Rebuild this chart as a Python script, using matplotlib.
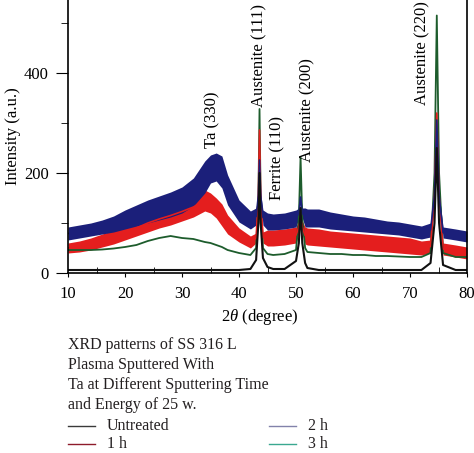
import numpy as np
import matplotlib
matplotlib.use("Agg")
import matplotlib.pyplot as plt
from matplotlib.lines import Line2D
from matplotlib.ticker import MultipleLocator

plt.rcParams['font.family'] = ['Liberation Serif', 'DejaVu Serif']
plt.rcParams['mathtext.fontset'] = 'custom'
plt.rcParams['mathtext.rm'] = 'Liberation Serif'
plt.rcParams['mathtext.it'] = 'Liberation Serif:italic'

# 2theta grid (degree), denser around the peaks
two_theta = [10, 12, 14, 16, 18, 20, 22, 24, 26, 28, 30, 32, 34, 35, 36, 37, 38, 40, 42,
             43.0, 43.4, 43.6, 43.8, 44.2, 45, 46, 48,
             50.0, 50.5, 50.8, 51.1, 51.6, 52, 54, 56, 58, 60, 62, 64, 66, 68, 70, 72,
             73.6, 74.3, 74.7, 75.1, 75.8, 78, 80]

# 2 h (noisy band: lower / upper edge)
h2_lo = [66, 70, 74, 78, 82, 88, 94, 100, 106, 112, 120, 134, 160, 180, 184, 170, 136, 102, 88,
         96, 150, 224, 150, 96, 86, 86, 88,
         92, 110, 150, 110, 92, 92, 92, 88, 86, 84, 82, 80, 78, 76, 72, 68,
         72, 150, 304, 150, 70, 66, 62]
h2_hi = [92, 96, 100, 106, 114, 126, 136, 146, 154, 162, 172, 190, 224, 236, 240, 234, 196, 146, 124,
         130, 160, 228, 160, 126, 120, 118, 120,
         126, 130, 154, 130, 130, 128, 128, 122, 118, 114, 112, 108, 104, 102, 98, 94,
         100, 160, 308, 160, 92, 88, 84]

# 1 h
h1_lo = [40, 42, 46, 52, 58, 66, 74, 82, 90, 96, 104, 112, 124, 120, 110, 94, 78, 62, 50,
         60, 150, 284, 150, 60, 54, 54, 56,
         60, 80, 108, 80, 58, 56, 54, 52, 50, 48, 46, 44, 42, 40, 38, 36,
         40, 150, 318, 150, 36, 32, 28]
h1_hi = [60, 64, 70, 78, 86, 94, 106, 118, 126, 134, 142, 152, 166, 160, 150, 138, 116, 90, 74,
         80, 160, 288, 160, 82, 86, 86, 88,
         92, 104, 112, 104, 92, 90, 88, 84, 82, 80, 78, 76, 74, 72, 70, 64,
         66, 160, 322, 160, 60, 56, 52]

# 3 h
h3 = [46, 46, 46, 47, 49, 52, 56, 64, 70, 74, 70, 68, 62, 60, 56, 52, 46, 40, 36,
      50, 150, 328, 150, 50, 38, 36, 38,
      46, 110, 232, 110, 50, 42, 40, 38, 38, 36, 36, 34, 34, 33, 32, 32,
      40, 200, 515, 200, 40, 32, 32]

# untreated
untreated = [6, 6, 6, 6, 6, 6, 6, 6, 6, 6, 6, 6, 6, 6, 6, 6, 6, 6, 8,
             26, 100, 200, 100, 30, 12, 8, 8,
             24, 60, 130, 60, 20, 10, 6, 6, 6, 6, 6, 6, 6, 6, 6, 6,
             20, 100, 250, 100, 16, 6, 6]

peak_labels = ["Ta (330)", "Austenite (111)", "Ferrite (110)", "Austenite (200)", "Austenite (220)"]
label_x = [35.4, 43.5, 46.7, 52.0, 72.1]
label_y = [250, 332, 146, 222, 336]

caption = ["XRD patterns of SS 316 L", "Plasma Sputtered With",
           "Ta at Different Sputtering Time", "and Energy of 25 w."]
legend_names = ["Untreated", "1 h", "2 h", "3 h"]
legend_colors = ["#3a3a3a", "#8e1b2b", "#8282aa", "#3aa890"]

fig = plt.figure(figsize=(4.74, 4.53), dpi=100)
ax = fig.add_axes([68/474, 1 - 273/453, 399/474, 273/453])

x = np.array(two_theta)
ax.plot(x, h3, color="#1d5c2c", lw=1.3)
ax.fill_between(x, h1_lo, h1_hi, color="#e41e1e", lw=0)
ax.plot(x, (np.array(h1_lo) + np.array(h1_hi)) / 2, color="#e41e1e", lw=1.2)
ax.fill_between(x, h2_lo, h2_hi, color="#1b1f7a", lw=0)
ax.plot(x, (np.array(h2_lo) + np.array(h2_hi)) / 2, color="#1b1f7a", lw=1.2)
ax.plot(x, untreated, color="#111111", lw=1.5)

for s, xx, yy in zip(peak_labels, label_x, label_y):
    ax.text(xx, yy, s, rotation=90, ha="center", va="bottom", fontsize=12)

ax.set_xlim(10, 80)
ax.set_ylim(0, 546)
ax.xaxis.set_major_locator(MultipleLocator(10))
ax.xaxis.set_minor_locator(MultipleLocator(5))
ax.yaxis.set_major_locator(MultipleLocator(200))
ax.yaxis.set_minor_locator(MultipleLocator(100))
ax.tick_params(axis="x", which="major", direction="out", length=3, pad=6, labelsize=12)
ax.tick_params(axis="x", which="minor", direction="in", length=4)
ax.tick_params(axis="y", which="major", direction="out", length=9, pad=5, labelsize=12)
ax.tick_params(axis="y", which="minor", direction="out", length=5)
ax.spines["top"].set_visible(False)
for sp in ax.spines.values():
    sp.set_linewidth(1.2)

ax.set_xlabel(r"2$\mathit{\theta}$ (degree)", fontsize=12)
ax.xaxis.set_label_coords(0.48, -0.125)
ax.set_ylabel("Intensity (a.u.)", fontsize=12)
ax.yaxis.set_label_coords(-0.118, 0.5)

txt = "#231f20"
for i, line in enumerate(caption):
    fig.text(68/474, 1 - (345 + 20*i)/453, line, fontsize=11.5, color=txt, va="center")

pos = [(68, 426), (68, 444), (269, 426), (269, 444)]
for name, c, (px, py) in zip(legend_names, legend_colors, pos):
    fig.add_artist(Line2D([px/474, (px + 27)/474], [1 - py/453, 1 - py/453],
                          transform=fig.transFigure, color=c, lw=1))
    fig.text((px + 39)/474, 1 - py/453, name, fontsize=11.5, color=txt, va="center")

fig.savefig("out.png", dpi=100)
